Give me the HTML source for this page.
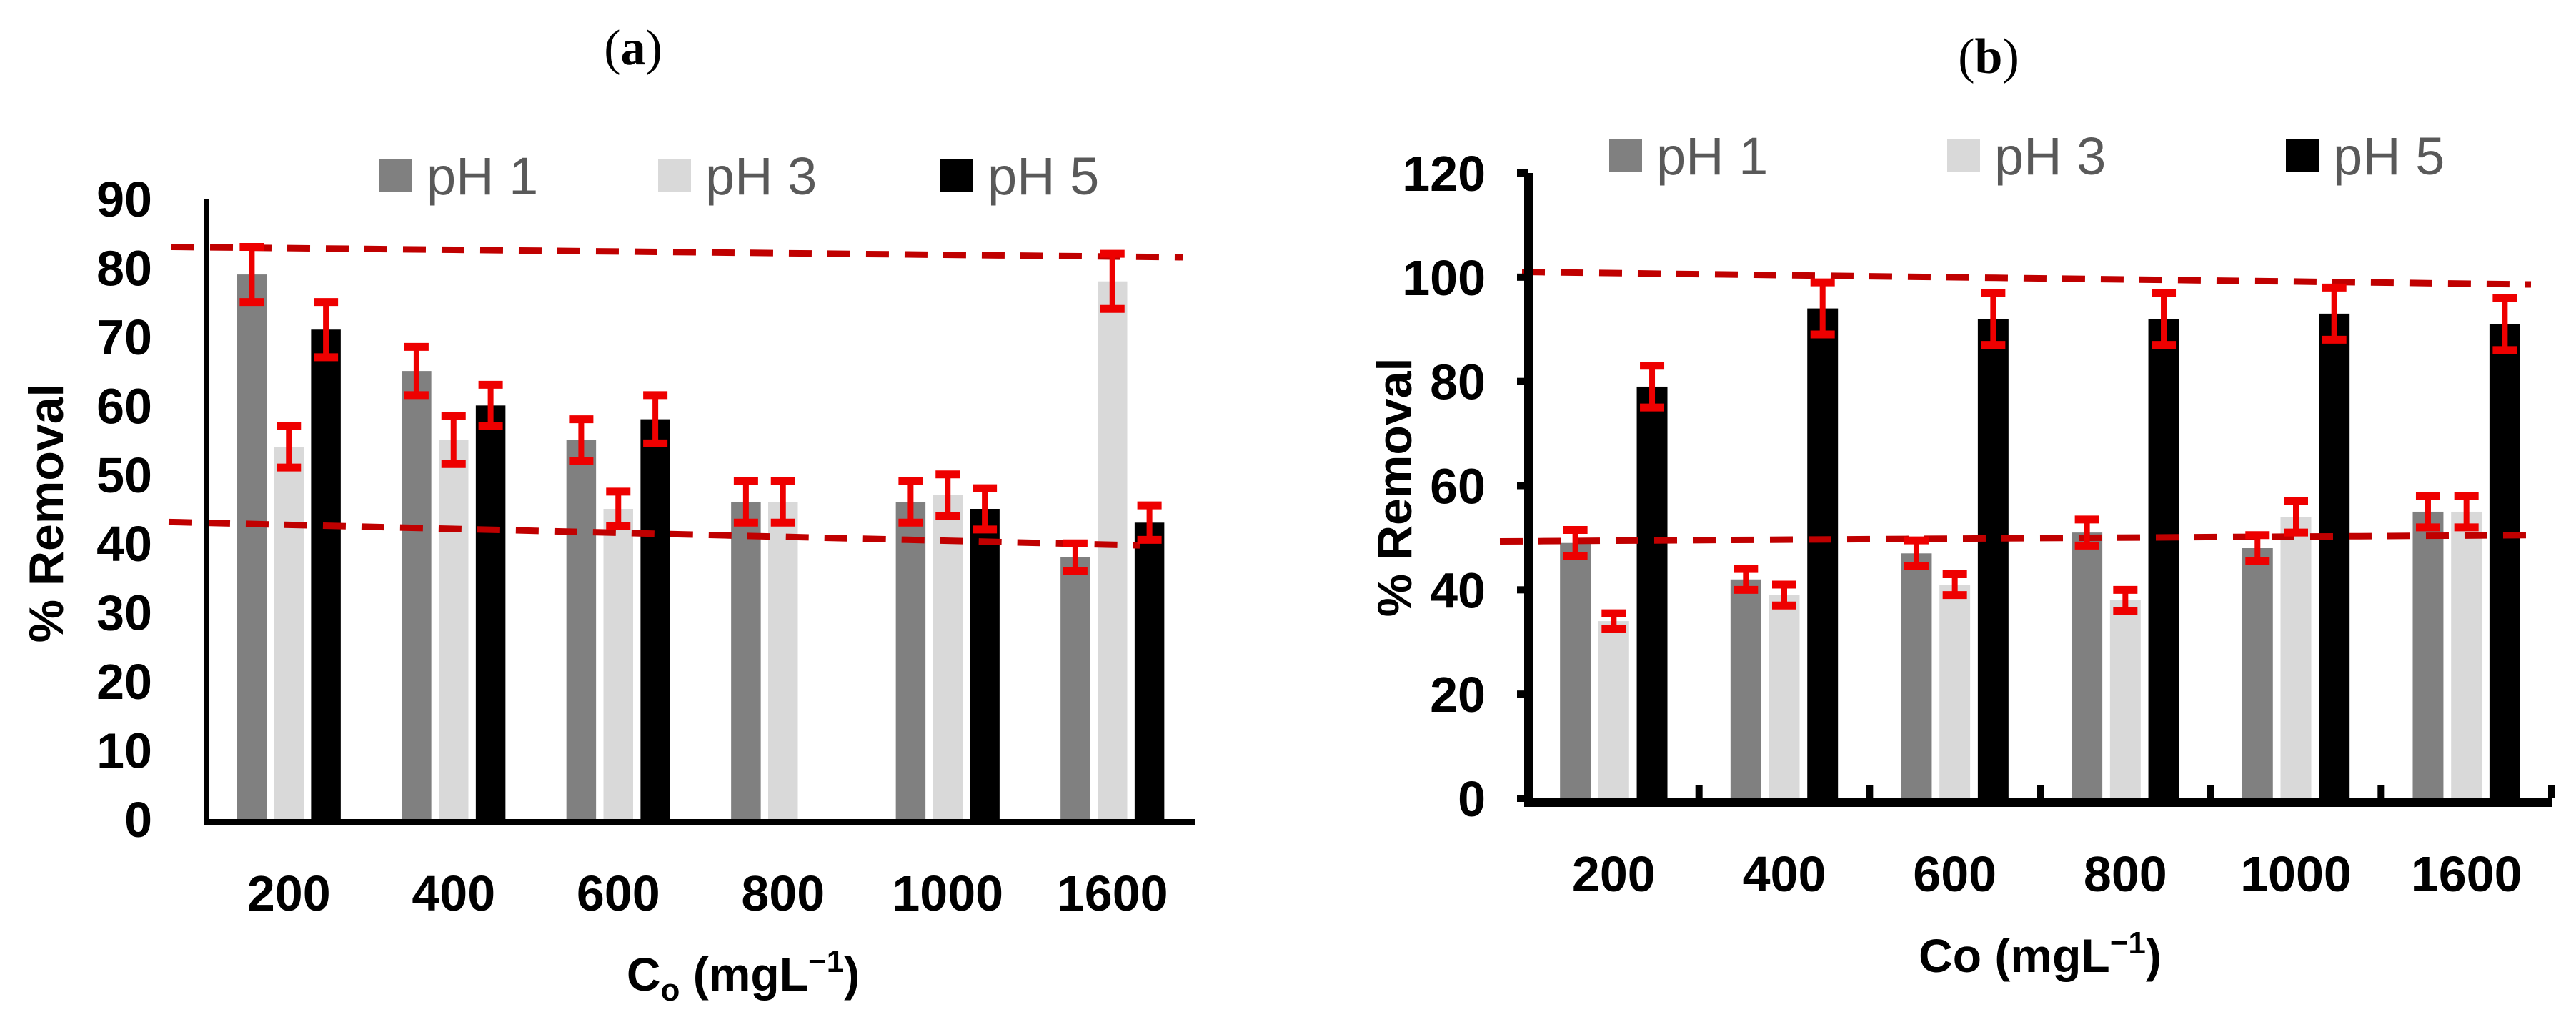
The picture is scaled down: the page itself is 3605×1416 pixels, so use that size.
<!DOCTYPE html>
<html><head><meta charset="utf-8"><style>
html,body{margin:0;padding:0;background:#fff;}
svg{display:block;}
text{font-family:"Liberation Sans",sans-serif;}
</style></head><body>
<svg id="chart" width="3605" height="1416" viewBox="0 0 3605 1416" xmlns="http://www.w3.org/2000/svg">
<text x="886" y="90" text-anchor="middle" style="font-family:'Liberation Serif',serif;font-size:70px">(<tspan font-weight="bold">a</tspan>)</text>
<text x="2783" y="102" text-anchor="middle" style="font-family:'Liberation Serif',serif;font-size:70px">(<tspan font-weight="bold">b</tspan>)</text>
</svg>
<script>
const categories = ["200","400","600","800","1000","1600"];
const seriesNames = ["pH 1","pH 3","pH 5"];
const aPH1 = [79,65,55,46,46,38];
const aPH3 = [54,55,45,46,47,78];
const aPH5 = [71,60,58,0,45,43];
const aErr1 = [4,3.5,3,3,3,2];
const aErr3 = [3,3.5,2.5,3,3,4];
const aErr5 = [4,3,3.5,0,3,2.5];
const aTicks = [0,10,20,30,40,50,60,70,80,90];
const aTrendUpper = [83,81.5];
const aTrendLower = [43.1,39.7];
const bPH1 = [49,42,47,51,48,55];
const bPH3 = [34,39,41,38,54,55];
const bPH5 = [79,94,92,92,93,91];
const bErr1 = [2.5,2,2.5,2.5,2.5,3];
const bErr3 = [1.5,2,2,2,3,3];
const bErr5 = [4,5,5,5,5,5];
const bTicks = [0,20,40,60,80,100,120];
const bTrendUpper = [101,98.6];
const bTrendLower = [49.3,50.5];

const NS="http://www.w3.org/2000/svg";
const svg=document.getElementById('chart');
function mk(tag,attrs,parent){const e=document.createElementNS(NS,tag);for(const k in attrs)e.setAttribute(k,attrs[k]);(parent||svg).appendChild(e);return e;}
const colors=["#808080","#d9d9d9","#000000"];

function panel(p){
  const g=mk('g',{});
  
  
  const y=v=>p.y0-(v/p.ymax)*(p.y0-p.ytop);
  const cw=(p.xR-p.xL)/categories.length;
  const cx=i=>p.xL+cw*(i+0.5);
  const bw=cw*0.18, off=cw*0.225;
  const series=[p.s1,p.s2,p.s3], errs=[p.e1,p.e2,p.e3];
  series.forEach((s,si)=>{
    s.forEach((v,i)=>{
      if(v<=0)return;
      const x=cx(i)+(si-1)*off-bw/2;
      const r=mk('rect',{x:x,y:y(v),width:bw,height:p.y0-y(v),fill:colors[si]},g);
      
      
    });
  });
  [p.tu,p.tl].forEach((t,ti)=>{
    const l=mk('line',{x1:ti?p.tlx0:p.tux0,y1:y(t[0]),x2:ti?p.tlx1:p.tux1,y2:y(t[1]),stroke:"#c00000","stroke-width":9,"stroke-dasharray":"32 22"},g);
    
    
  });
  series.forEach((s,si)=>{
    s.forEach((v,i)=>{
      const e=errs[si][i]; if(v<=0||!e)return;
      const x=cx(i)+(si-1)*off;
      const eg=mk('g',{stroke:"#ee0000","stroke-width":8},g);
      
      
      mk('line',{x1:x,x2:x,y1:y(v+e),y2:y(v-e)},eg);
      mk('line',{x1:x-17,x2:x+17,y1:y(v+e),y2:y(v+e),"stroke-width":11},eg);
      mk('line',{x1:x-17,x2:x+17,y1:y(v-e),y2:y(v-e),"stroke-width":11},eg);
    });
  });
  const ax=mk('g',{stroke:"#000"},g);
  
  
  mk('line',{x1:p.xL,x2:p.xL,y1:p.ytop,y2:p.y0+p.aw/2,"stroke-width":p.aw},ax);
  mk('line',{x1:p.xL-p.aw/2,x2:p.xR,y1:p.y0+p.aw/2,y2:p.y0+p.aw/2,"stroke-width":p.aw},ax);
  if(p.ticks){
    p.yt.forEach(v=>mk('line',{x1:p.xL-16,x2:p.xL,y1:y(v),y2:y(v),"stroke-width":10},ax));
    for(let i=1;i<=categories.length;i++)mk('line',{x1:p.xL+cw*i,x2:p.xL+cw*i,y1:p.y0-18,y2:p.y0,"stroke-width":10},ax);
  }
  p.yt.forEach(v=>{
    const t=mk('text',{x:p.xL-p.lblGap,y:y(v)+25,"text-anchor":"end","font-weight":"bold","font-size":70},g);
    t.textContent=v;
    
    
  });
  categories.forEach((c,i)=>{
    const t=mk('text',{x:cx(i),y:p.xlY,"text-anchor":"middle","font-weight":"bold","font-size":70},g);
    t.textContent=c;
    
    
  });
  const yt=mk('text',{x:0,y:0,"text-anchor":"middle","font-weight":"bold","font-size":68,transform:`translate(${p.ytX},${p.ytY}) rotate(-90)`},g);
  yt.textContent="% Removal";
  
  
  const xt=mk('text',{x:p.xtX,y:p.xtY,"text-anchor":"middle","font-weight":"bold","font-size":66},g);
  xt.innerHTML=p.xtitle;
  
  
  p.leg.forEach((lx,si)=>{
    const lg=mk('g',{},g);
    
    
    mk('rect',{x:lx,y:p.legY-23,width:46,height:46,fill:colors[si]},lg);
    const t=mk('text',{x:lx+66,y:p.legY+27,"font-size":74,fill:"#595959"},lg);
    t.textContent=seriesNames[si];
  });
}
panel({id:'panel-a',xL:289,xR:1672,y0:1146,ytop:278,ymax:90,s1:aPH1,s2:aPH3,s3:aPH5,e1:aErr1,e2:aErr3,e3:aErr5,yt:aTicks,
  tu:aTrendUpper,tl:aTrendLower,tux0:240,tux1:1655,tlx0:236,tlx1:1595,aw:8,ticks:false,lblGap:76,xlY:1274,
  ytX:88,ytY:718,xtX:1040,xtY:1386,xtitle:'C<tspan font-size="44" dy="14">o</tspan><tspan dy="-14"> (mgL</tspan><tspan font-size="44" dy="-26">−1</tspan><tspan dy="26">)</tspan>',
  leg:[531,921,1316],legY:245});
panel({id:'panel-b',xL:2139,xR:3571,y0:1117,ytop:242,ymax:120,s1:bPH1,s2:bPH3,s3:bPH5,e1:bErr1,e2:bErr3,e3:bErr5,yt:bTicks,
  tu:bTrendUpper,tl:bTrendLower,tux0:2130,tux1:3542,tlx0:2099,tlx1:3540,aw:12,ticks:true,lblGap:60,xlY:1247,
  ytX:1975,ytY:682,xtX:2855,xtY:1360,xtitle:'Co (mgL<tspan font-size="44" dy="-26">−1</tspan><tspan dy="26">)</tspan>',
  leg:[2252,2725,3199],legY:217});
</script>
</body></html>
